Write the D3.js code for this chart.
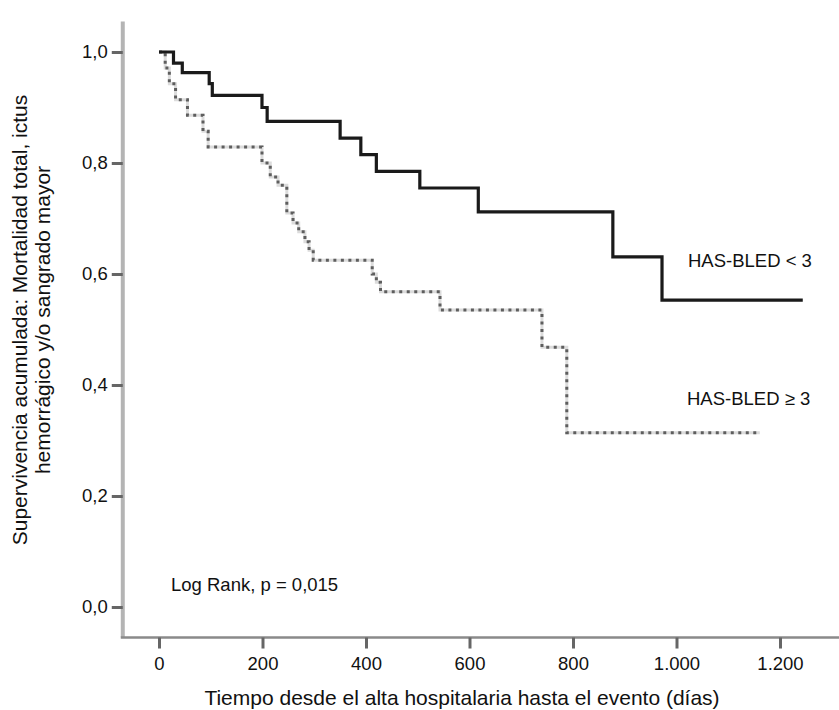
<!DOCTYPE html>
<html>
<head>
<meta charset="utf-8">
<script src="https://cdn.jsdelivr.net/npm/d3@7"></script>
<style>
  body { margin: 0; background: #fff; }
  text { font-family: "Liberation Sans", Arial, Helvetica, sans-serif; fill: #111; }
</style>
</head>
<body>
<script>
// Kaplan-Meier steps (days, cumulative survival)
var lowDays = [0, 28, 45, 97, 103, 199, 209, 350, 390, 420, 504, 617, 877, 972, 1244];
var lowSurv = [1.0, 0.98, 0.963, 0.943, 0.922, 0.90, 0.875, 0.845, 0.815, 0.785, 0.755, 0.712, 0.631, 0.553, 0.553];

var highDays = [0, 12, 20, 32, 55, 85, 95, 199, 215, 230, 247, 259, 270, 282, 290, 298, 412, 420, 428, 543, 740, 788, 1161];
var highSurv = [1.0, 0.971, 0.943, 0.914, 0.886, 0.857, 0.829, 0.80, 0.775, 0.76, 0.71, 0.692, 0.676, 0.658, 0.643, 0.625, 0.60, 0.585, 0.568, 0.535, 0.468, 0.314, 0.314];

var xTicks = [0, 200, 400, 600, 800, 1000, 1200];
var xTickLabels = ["0", "200", "400", "600", "800", "1.000", "1.200"];
var yTicks = [0, 0.2, 0.4, 0.6, 0.8, 1.0];
var yTickLabels = ["0,0", "0,2", "0,4", "0,6", "0,8", "1,0"];

var width = 839;
var height = 710;

var svgContainer = d3.select("body")
                     .append("svg")
                     .attr("width", width)
                     .attr("height", height);

var x = d3.scaleLinear().domain([0, 1200]).range([159, 780]);
var y = d3.scaleLinear().domain([0, 1]).range([607, 52]);

// frame lines (the axes run a bit past the data range)
var frameLeft = x(-70);
var frameBottom = y(-0.055);

svgContainer.append("line")
            .attr("x1", frameLeft).attr("x2", frameLeft)
            .attr("y1", y(1.055)).attr("y2", frameBottom)
            .attr("stroke", "#b4b4b4")
            .attr("stroke-width", 4);

svgContainer.append("line")
            .attr("x1", frameLeft - 2).attr("x2", width)
            .attr("y1", frameBottom).attr("y2", frameBottom)
            .attr("stroke", "#8a8a8a")
            .attr("stroke-width", 2.5);

// x axis
var xAxis = d3.axisBottom(x)
              .tickValues(xTicks)
              .tickFormat(function(d, i) { return xTickLabels[i]; })
              .tickSize(11)
              .tickPadding(8);

var gx = svgContainer.append("g")
                     .attr("transform", "translate(0," + frameBottom + ")")
                     .call(xAxis);
gx.select(".domain").remove();
gx.selectAll(".tick line").attr("stroke", "#666").attr("stroke-width", 3);
gx.selectAll(".tick text").style("font-size", "18.5px").attr("fill", "#111");

// y axis
var yAxis = d3.axisLeft(y)
              .tickValues(yTicks)
              .tickFormat(function(d, i) { return yTickLabels[i]; })
              .tickSize(11)
              .tickPadding(4);

var gy = svgContainer.append("g")
                     .attr("transform", "translate(" + frameLeft + ",0)")
                     .call(yAxis);
gy.select(".domain").remove();
gy.selectAll(".tick line").attr("stroke", "#666").attr("stroke-width", 3);
gy.selectAll(".tick text").style("font-size", "18.5px").attr("fill", "#111");

function toPoints(days, surv) {
  var pts = [];
  for (var i = 0; i < days.length; i++) {
    pts.push({"d": days[i], "s": surv[i]});
  }
  return pts;
}

var stepLine = d3.line()
                 .x(function(p) { return x(p.d); })
                 .y(function(p) { return y(p.s); })
                 .curve(d3.curveStepAfter);

// HAS-BLED >= 3, dotted
var highPts = toPoints(highDays, highSurv);
svgContainer.append("path")
            .attr("d", stepLine(highPts))
            .attr("stroke", "#dcdcdc")
            .attr("stroke-width", 3)
            .attr("fill", "none");
svgContainer.append("path")
            .attr("d", stepLine(highPts))
            .attr("stroke", "#5e5e5e")
            .attr("stroke-width", 3)
            .attr("stroke-dasharray", "3,4.5")
            .attr("fill", "none");

// HAS-BLED < 3, solid
svgContainer.append("path")
            .attr("d", stepLine(toPoints(lowDays, lowSurv)))
            .attr("stroke", "#1a1a1a")
            .attr("stroke-width", 3.2)
            .attr("fill", "none");

// labels
svgContainer.append("text")
            .attr("x", 688).attr("y", 267)
            .style("font-size", "18.5px")
            .text("HAS-BLED < 3");

svgContainer.append("text")
            .attr("x", 687).attr("y", 405)
            .style("font-size", "18.5px")
            .text("HAS-BLED \u2265 3");

svgContainer.append("text")
            .attr("x", 171).attr("y", 591)
            .style("font-size", "18.5px")
            .text("Log Rank, p = 0,015");

// axis titles
svgContainer.append("text")
            .attr("x", 462).attr("y", 705)
            .attr("text-anchor", "middle")
            .style("font-size", "21px")
            .text("Tiempo desde el alta hospitalaria hasta el evento (días)");

var yTitle = svgContainer.append("g")
                         .attr("transform", "translate(0,320) rotate(-90)");
yTitle.append("text")
      .attr("x", 0).attr("y", 27)
      .attr("text-anchor", "middle")
      .style("font-size", "21px")
      .text("Supervivencia acumulada: Mortalidad total, ictus");
yTitle.append("text")
      .attr("x", 0).attr("y", 50)
      .attr("text-anchor", "middle")
      .style("font-size", "21px")
      .text("hemorrágico y/o sangrado mayor");
</script>
</body>
</html>
